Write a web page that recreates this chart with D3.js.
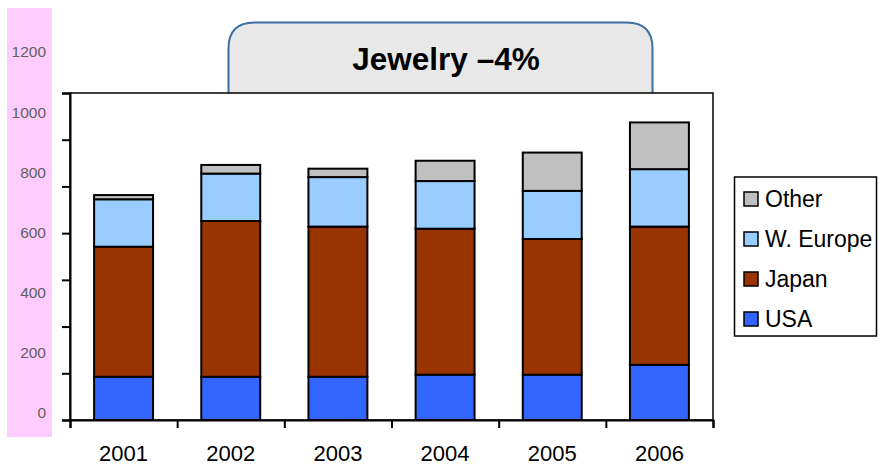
<!DOCTYPE html>
<html><head><meta charset="utf-8">
<script src="https://cdn.jsdelivr.net/npm/d3@7"></script>
<style>body{margin:0;background:#fff}svg{display:block;font-family:"Liberation Sans",Arial,sans-serif}</style>
</head><body><svg id="c" width="878" height="466"></svg>
<script>
const years = ["2001","2002","2003","2004","2005","2006"];
const seriesNames = ["USA","Japan","W. Europe","Other"];
const usa = [185,185,185,194,194,236];
const japan = [557,667,643,625,581,592];
const weurope = [203,203,212,204,206,246];
const other = [18,37,36,87,164,200];
const colors = ["#3366FF","#993300","#99CCFF","#C0C0C0"];
const stripLabels = [0,200,400,600,800,1000,1200];
const yTicks = [0,200,400,600,800,1000,1200,1400];
const title = "Jewelry \u20134%";

const svg = d3.select("#c");
const L=70,R=713,T=93,B=420;
const x = d3.scaleBand().domain(years).range([L,R]).paddingInner(0.45).paddingOuter(0.225);
const y = d3.scaleLinear().domain([0,1400]).range([B,T]);
const xb = d3.scaleLinear().domain([0,years.length]).range([L,R]);

// pink label strip
const ys = d3.scaleLinear().domain([0,1200]).range([413,52]);
svg.append("rect").attr("x",7).attr("y",8).attr("width",45).attr("height",429).attr("fill","#FFCCFF");
svg.selectAll("text.sl").data(stripLabels).join("text").attr("class","sl")
  .attr("x",46).attr("y",d=>ys(d)).attr("dy","0.35em").attr("text-anchor","end")
  .attr("font-size",15.5).attr("fill","#5f5f5f").text(d=>d);

// title box
const bx0=228.5,bx1=652.5,by0=22.5,r=26;
svg.append("path").attr("d",`M${bx0},${T}V${by0+r}Q${bx0},${by0} ${bx0+r},${by0}H${bx1-r}Q${bx1},${by0} ${bx1},${by0+r}V${T}`)
  .attr("fill","#E8E8E8").attr("stroke","#3A6EA5").attr("stroke-width",2);
svg.append("text").attr("x",446).attr("y",70).attr("text-anchor","middle")
  .attr("font-size",31.5).attr("font-weight","bold").attr("fill","#000").text(title);

// plot area
svg.append("rect").attr("x",L).attr("y",T).attr("width",R-L).attr("height",B-T).attr("fill","#fff");

// stacked bars
const rows = years.map((yr,i)=>({year:yr,"USA":usa[i],"Japan":japan[i],"W. Europe":weurope[i],"Other":other[i]}));
const stack = d3.stack().keys(seriesNames)(rows);
svg.append("g").selectAll("g").data(stack).join("g").attr("fill",(d,i)=>colors[i])
  .selectAll("rect").data(d=>d).join("rect")
  .attr("x",d=>x(d.data.year)).attr("width",x.bandwidth())
  .attr("y",d=>y(d[1])).attr("height",d=>y(d[0])-y(d[1]))
  .attr("stroke","#000").attr("stroke-width",2);

// frame
svg.append("rect").attr("x",L).attr("y",T).attr("width",R-L).attr("height",B-T)
  .attr("fill","none").attr("stroke","#000").attr("stroke-width",1.5);

// y axis ticks
const ya = svg.append("g").attr("transform",`translate(${L},0)`)
  .call(d3.axisLeft(y).tickValues(yTicks).tickSize(8).tickFormat(""));
ya.select(".domain").attr("stroke","#000").attr("stroke-width",2);
ya.selectAll(".tick line").attr("stroke","#000").attr("stroke-width",2);

// x axis
const xa = svg.append("g").attr("transform",`translate(0,${B})`)
  .call(d3.axisBottom(xb).tickValues(d3.range(years.length+1)).tickSize(8).tickFormat(""));
xa.select(".domain").attr("stroke","#000").attr("stroke-width",2);
xa.selectAll(".tick line").attr("stroke","#000").attr("stroke-width",2);
const xl = svg.append("g").attr("transform",`translate(0,${B})`)
  .call(d3.axisBottom(x).tickSize(0).tickPadding(0));
xl.select(".domain").remove();
xl.selectAll("text").attr("font-size",22).attr("fill","#000").attr("y",41).attr("dy",0)
  .attr("font-family","'Liberation Sans',Arial,sans-serif");

// legend
svg.append("rect").attr("x",734.5).attr("y",177).attr("width",142).attr("height",159)
  .attr("fill","#fff").attr("stroke","#000").attr("stroke-width",1.5);
const legItems = seriesNames.map((n,i)=>({n,c:colors[i]})).reverse();
const lg = svg.append("g").selectAll("g").data(legItems).join("g")
  .attr("transform",(d,i)=>`translate(744,${199+i*40})`);
lg.append("rect").attr("x",0).attr("y",-7).attr("width",14).attr("height",14)
  .attr("fill",d=>d.c).attr("stroke","#000").attr("stroke-width",1.5);
lg.append("text").attr("x",21).attr("y",0).attr("dy","0.36em").attr("font-size",23).text(d=>d.n);
</script></body></html>
